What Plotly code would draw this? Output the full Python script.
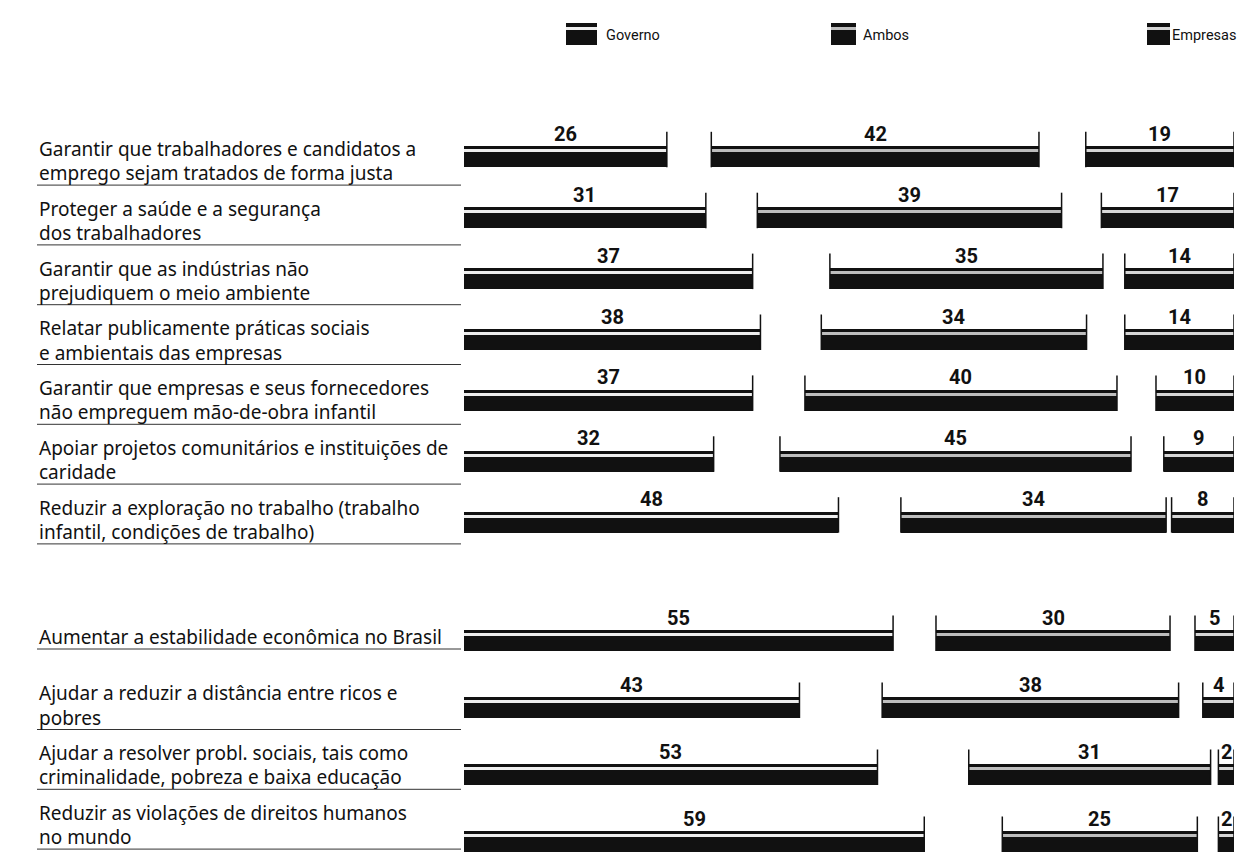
import plotly.graph_objects as go

# ---------------- data ----------------
labels = [
    "Garantir que trabalhadores e candidatos a\nemprego sejam tratados de forma justa",
    "Proteger a saúde e a segurança\ndos trabalhadores",
    "Garantir que as indústrias não\nprejudiquem o meio ambiente",
    "Relatar publicamente práticas sociais\ne ambientais das empresas",
    "Garantir que empresas e seus fornecedores\nnão empreguem mão-de-obra infantil",
    "Apoiar projetos comunitários e instituições de\ncaridade",
    "Reduzir a exploração no trabalho (trabalho\ninfantil, condições de trabalho)",
    "Aumentar a estabilidade econômica no Brasil",
    "Ajudar a reduzir a distância entre ricos e\npobres",
    "Ajudar a resolver probl. sociais, tais como\ncriminalidade, pobreza e baixa educação",
    "Reduzir as violações de direitos humanos\nno mundo",
]
bloco = [1, 1, 1, 1, 1, 1, 1, 2, 2, 2, 2]          # two groups of statements
governo = [26, 31, 37, 38, 37, 32, 48, 55, 43, 53, 59]
ambos = [42, 39, 35, 34, 40, 45, 34, 30, 38, 31, 25]
empresas = [19, 17, 14, 14, 10, 9, 8, 5, 4, 2, 2]
# blank (unlabelled) share separating the Governo and Ambos bars
lacuna_gov_ambos = [5.7, 6.6, 9.9, 7.8, 6.7, 8.5, 8.0, 5.5, 10.6, 11.7, 10.0]
series_names = ["Governo", "Ambos", "Empresas"]

# ---------------- layout constants (pixels) ----------------
W, H = 1241, 864
TOTAL = 98.7                 # full bar track (Empresas right-aligned to it)
X0_PX, X1_PX = 464, 1234     # pixel extent of the bar track
BAR_BLOCK_START = {1: 156.8, 2: 640.5}
BAR_BLOCK_STEP = {1: 60.9, 2: 67.0}
LAB_BLOCK_START = {1: 148.9, 2: 633.5}
LAB_STEP = 59.8
LINE_GAP = 24.2
BAR_PX = 21
STRIPE_PX = 3
LABEL_X_PX = 37
INK = "#111111"

n = len(labels)
# index of each row inside its block
k_in_block = []
for i, b in enumerate(bloco):
    k_in_block.append(sum(1 for j in range(i) if bloco[j] == b))
ypos = [BAR_BLOCK_START[b] + BAR_BLOCK_STEP[b] * k for b, k in zip(bloco, k_in_block)]
ylab = [LAB_BLOCK_START[b] + LAB_STEP * k for b, k in zip(bloco, k_in_block)]

gov_base = [0] * n
amb_base = [g + l for g, l in zip(governo, lacuna_gov_ambos)]
emp_base = [TOTAL - e for e in empresas]

fig = go.Figure()

stripe_colors = {"Governo": "#eeeeee", "Ambos": "#bdbdbd", "Empresas": "#d6d6d6"}
for name, vals, base in zip(series_names, [governo, ambos, empresas], [gov_base, amb_base, emp_base]):
    fig.add_trace(go.Bar(
        y=ypos, x=vals, base=base, orientation="h", name=name,
        width=BAR_PX, offset=-BAR_PX / 2,
        marker=dict(color=INK, line=dict(width=0)), showlegend=False,
        hovertemplate=name + ": %{x}<extra></extra>",
    ))
    fig.add_trace(go.Bar(
        y=ypos, x=vals, base=base, orientation="h", name=name + " (faixa)",
        width=STRIPE_PX, offset=-BAR_PX / 2 + 3,
        marker=dict(color=stripe_colors[name], line=dict(width=0)), showlegend=False,
        hoverinfo="skip",
    ))

# vertical end ticks
tx, ty = [], []
for i, yc in enumerate(ypos):
    top = yc - 25
    bottom = yc + BAR_PX / 2
    ends = [governo[i], amb_base[i], amb_base[i] + ambos[i], emp_base[i], TOTAL]
    for xe in ends:
        tx += [xe, xe, None]
        ty += [bottom, top, None]
fig.add_trace(go.Scatter(x=tx, y=ty, mode="lines", line=dict(color=INK, width=1.5),
                         hoverinfo="skip", showlegend=False))

num_font = dict(family="Liberation Sans Narrow, Roboto, Arial Narrow, sans-serif", size=20, color=INK)
lab_font = dict(family="Noto Sans, Open Sans, sans-serif", size=19, color=INK)

annotations = []
shapes = []
for i, yc in enumerate(ypos):
    for vals, base in [(governo, gov_base), (ambos, amb_base), (empresas, emp_base)]:
        annotations.append(dict(
            x=base[i] + vals[i] / 2, y=yc - 23, xref="x", yref="y", text="<b>%d</b>" % vals[i],
            showarrow=False, font=num_font, xanchor="center", yanchor="middle"))
    lines = labels[i].split("\n")
    if len(lines) == 2:
        line_y = [ylab[i], ylab[i] + LINE_GAP]
    else:
        line_y = [ylab[i] + 3.5]
    for txt, ly in zip(lines, line_y):
        annotations.append(dict(
            x=LABEL_X_PX / W, y=ly, xref="paper", yref="y", text=txt, showarrow=False,
            font=lab_font, xanchor="left", yanchor="middle"))
    yl = line_y[-1] + 12
    shapes.append(dict(type="line", xref="paper", yref="y",
                       x0=LABEL_X_PX / W, x1=(X0_PX - 3) / W, y0=yl, y1=yl,
                       line=dict(color="#333333", width=1)))

# custom legend at the top
leg_items = [("Governo", 566, 31, 604, "left"), ("Ambos", 831, 25, 861, "left"),
             ("Empresas", 1147, 23, 1238, "right")]
leg_font = dict(family="Liberation Sans Narrow, Roboto, Arial Narrow, sans-serif", size=14.5, color=INK)
for name, x0, wpx, tx0, anc in leg_items:
    y0p, y1p = 23, 45
    shapes.append(dict(type="rect", xref="paper", yref="paper",
                       x0=x0 / W, x1=(x0 + wpx) / W, y0=1 - y1p / H, y1=1 - y0p / H,
                       fillcolor=INK, line=dict(width=0)))
    shapes.append(dict(type="rect", xref="paper", yref="paper",
                       x0=x0 / W, x1=(x0 + wpx) / W, y0=1 - (y0p + 7) / H, y1=1 - (y0p + 4) / H,
                       fillcolor=stripe_colors[name], line=dict(width=0)))
    annotations.append(dict(x=tx0 / W, y=1 - 36 / H, xref="paper", yref="paper", text=name,
                            showarrow=False, font=leg_font, xanchor=anc, yanchor="middle"))

fig.update_layout(
    width=W, height=H, margin=dict(l=0, r=0, t=0, b=0),
    paper_bgcolor="white", plot_bgcolor="white",
    barmode="overlay", bargap=0,
    xaxis=dict(range=[0, TOTAL], domain=[X0_PX / W, X1_PX / W], visible=False, fixedrange=True),
    yaxis=dict(range=[H, 0], visible=False, fixedrange=True),
    annotations=annotations, shapes=shapes, showlegend=False,
)

fig.write_html("out.html", config={"displayModeBar": False},
               post_script="document.body.style.margin='0px';document.body.style.overflow='hidden';")
